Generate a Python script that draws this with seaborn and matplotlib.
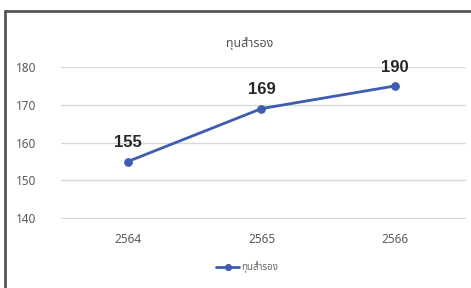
import matplotlib.pyplot as plt
from matplotlib.lines import Line2D
import pandas as pd
import seaborn as sns

# data
years = ['2564', '2565', '2566']
reserve = [155, 169, 175]
point_labels = ['155', '169', '190']
series_name = 'ทุนสำรอง'
y_ticks = [140, 150, 160, 170, 180]

df = pd.DataFrame({'year': years, 'value': reserve})

sns.set_style('white')
plt.rcParams['font.family'] = ['Noto Sans Thai', 'Noto Sans', 'DejaVu Sans']

W, H = 471, 288
fig = plt.figure(figsize=(W / 100, H / 100), dpi=100)
fig.patch.set_facecolor('white')
fig.patch.set_edgecolor('white')

# outer chart frame, only top and left edges are visible in the crop
top = 1 - 11 / H
left = 5 / W
fig.add_artist(Line2D([left, 1.05], [top, top], transform=fig.transFigure,
                      color='#555555', linewidth=2))
fig.add_artist(Line2D([left, left], [-0.05, top], transform=fig.transFigure,
                      color='#555555', linewidth=2))

ax = fig.add_axes([61 / W, 69 / H, 405 / W, 152 / H])
line_color = '#3f5db0'
sns.lineplot(data=df, x='year', y='value', ax=ax, color=line_color,
             linewidth=2, marker='o', markersize=5.5, markeredgecolor=line_color,
             label=series_name, sort=False)

ax.set_xlim(-0.5, 2.53)
ax.set_ylim(139.8, 180)
ax.set_yticks(y_ticks)
ax.grid(axis='y', color='#d9d9d9', linewidth=1)
ax.set_axisbelow(True)
for s in ax.spines.values():
    s.set_visible(False)
ax.tick_params(axis='both', length=0, labelsize=8.5, colors='#595959')
ax.tick_params(axis='y', pad=18)
ax.tick_params(axis='x', pad=10)
ax.set_xlabel('')
ax.set_ylabel('')

for i, (v, lab) in enumerate(zip(reserve, point_labels)):
    ax.annotate(lab, (i, v), xytext=(0, 8), textcoords='offset points',
                ha='center', va='bottom', fontsize=12, fontweight='bold',
                color='#262626', family=['Liberation Sans', 'DejaVu Sans'],
                annotation_clip=False)

fig.text(250 / W, 1 - 43 / H, series_name, ha='center', va='center',
         fontsize=9, color='#555555')

ax.legend(loc='upper center', bbox_to_anchor=(0.46, -0.22), frameon=False,
          fontsize=7, labelcolor='#666666', handlelength=2.4, handletextpad=0.2,
          markerscale=0.8)

fig.savefig('out.png', dpi=100)
